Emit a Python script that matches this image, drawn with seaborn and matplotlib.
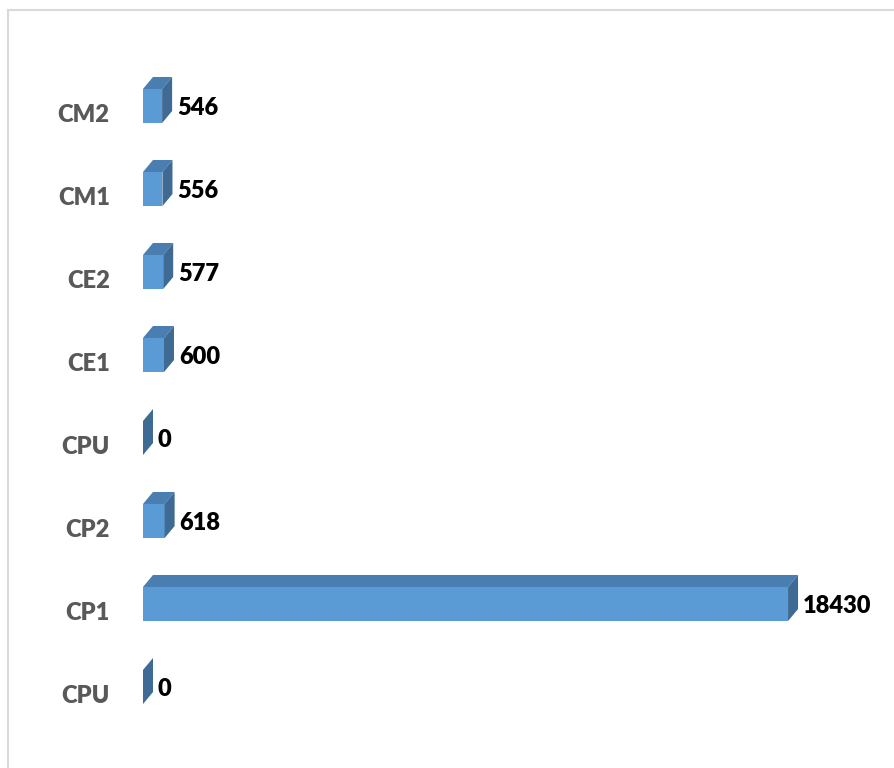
import numpy as np
import pandas as pd
import seaborn as sns
import matplotlib.pyplot as plt
from matplotlib.patches import Polygon, Rectangle

categories = ['CM2', 'CM1', 'CE2', 'CE1', 'CPU', 'CP2', 'CP1', 'CPU']
values = [546, 556, 577, 600, 0, 618, 18430, 0]

front = '#5B9BD5'
top_col = '#4A7DB0'
side_col = '#3E6A93'

df = pd.DataFrame({'key': [str(i) for i in range(len(categories))],
                   'label': categories, 'value': values})

sns.set_style('white')
plt.rcParams['font.family'] = ['Lato', 'DejaVu Sans']

fig = plt.figure(figsize=(8.95, 7.68), dpi=100)
ax = fig.add_axes([143 / 895, (768 - 728.5) / 768, 700 / 895, 664 / 768])

sns.barplot(data=df, x='value', y='key', orient='h', color=front,
            width=0.41, saturation=1, ax=ax, errorbar=None,
            edgecolor='none', linewidth=0)

ax.set_xlim(0, 20000)
ax.set_ylim(len(categories) - 0.5, -0.5)

# 3D look: depth offsets in data units
dx = 10 / 700 * 20000
dy = 12 / 83
for p in ax.patches[:len(values)]:
    x0, y0 = p.get_x(), p.get_y()
    w, h = p.get_width(), p.get_height()
    ytop = y0  # inverted axis: smaller y is visually higher
    ax.add_patch(Polygon([(x0, ytop), (x0 + dx, ytop - dy), (x0 + w + dx, ytop - dy), (x0 + w, ytop)],
                         closed=True, facecolor=top_col, edgecolor='none', clip_on=False))
    ax.add_patch(Polygon([(x0 + w, ytop), (x0 + w + dx, ytop - dy), (x0 + w + dx, ytop + h - dy), (x0 + w, ytop + h)],
                         closed=True, facecolor=side_col, edgecolor='none', clip_on=False))
    ax.text(x0 + w + dx + 5 / 700 * 20000, y0 + h / 2 + 0.02, f'{int(w)}',
            va='center', ha='left', fontsize=17, fontweight='heavy', color='black')

ax.set_yticks(np.arange(len(categories)) + 0.09)
ax.set_yticklabels(categories, fontsize=17, fontweight='heavy', color='#595959')
ax.tick_params(axis='y', length=0, pad=24)
ax.set_xticks([])
ax.set_xlabel('')
ax.set_ylabel('')
for s in ax.spines.values():
    s.set_visible(False)

fig.patches.append(Rectangle((8 / 895, -0.05), 1.1, (768 - 10) / 768 + 0.05,
                             transform=fig.transFigure, fill=False,
                             edgecolor='#D9D9D9', linewidth=1.5))

fig.savefig('out.png', dpi=100)
